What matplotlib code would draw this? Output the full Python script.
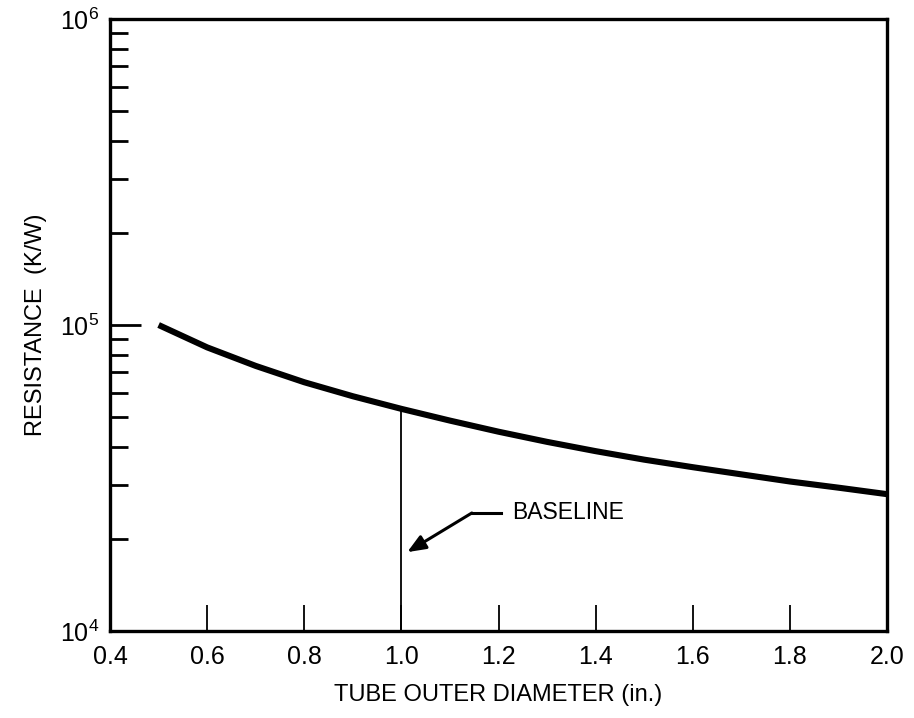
import matplotlib
matplotlib.use("Agg")
import matplotlib.pyplot as plt
from matplotlib.ticker import LogLocator, FixedLocator, NullFormatter

plt.rcParams['font.family'] = ['Liberation Sans', 'DejaVu Sans']
plt.rcParams['mathtext.fontset'] = 'custom'
plt.rcParams['mathtext.rm'] = 'Liberation Sans'
plt.rcParams['mathtext.it'] = 'Liberation Sans'
plt.rcParams['mathtext.default'] = 'regular'

# Data
diameter = [0.5, 0.6, 0.7, 0.8, 0.9, 1.0, 1.1, 1.2, 1.3, 1.4, 1.5, 1.6, 1.7, 1.8, 1.9, 2.0]
resistance = [1.0e5, 8.45e4, 7.35e4, 6.5e4, 5.85e4, 5.32e4, 4.87e4, 4.48e4, 4.15e4,
              3.87e4, 3.63e4, 3.43e4, 3.25e4, 3.08e4, 2.94e4, 2.8e4]
baseline_x = 1.0
baseline_y = 5.32e4
x_ticks = [0.4, 0.6, 0.8, 1.0, 1.2, 1.4, 1.6, 1.8, 2.0]
x_ticklabels = ['0.4', '0.6', '0.8', '1.0', '1.2', '1.4', '1.6', '1.8', '2.0']
y_ticks = [1e4, 1e5, 1e6]
y_ticklabels = ['$10^4$', '$10^5$', '$10^6$']

fig = plt.figure(figsize=(9.14, 7.18), dpi=100)
ax = fig.add_axes([0.1204, 0.1212, 0.8501, 0.8523])

ax.plot(diameter, resistance, color='black', lw=4.4, solid_capstyle='butt')
ax.plot([baseline_x, baseline_x], [1e4, baseline_y], color='black', lw=1.3)

ax.set_yscale('log')
ax.set_xlim(0.4, 2.0)
ax.set_ylim(1e4, 1e6)

ax.xaxis.set_major_locator(FixedLocator(x_ticks))
ax.set_xticklabels(x_ticklabels)
ax.yaxis.set_major_locator(FixedLocator(y_ticks))
ax.set_yticklabels(y_ticklabels)
ax.yaxis.set_minor_locator(LogLocator(base=10, subs=range(2, 10)))
ax.yaxis.set_minor_formatter(NullFormatter())

ax.tick_params(axis='x', which='major', direction='in', length=19, width=1.3,
               labelsize=18, pad=10, top=False)
ax.tick_params(axis='y', which='major', direction='in', length=22, width=2,
               labelsize=18, pad=8, right=False)
ax.tick_params(axis='y', which='minor', direction='in', length=13, width=2, right=False)

for s in ax.spines.values():
    s.set_linewidth(2.4)

ax.set_xlabel('TUBE OUTER DIAMETER (in.)', fontsize=17, labelpad=11)
ax.set_ylabel('RESISTANCE  (K/W)', fontsize=17, labelpad=9)

# BASELINE annotation
ax.annotate('', xy=(1.012, 1.81e4), xytext=(1.145, 2.43e4),
            arrowprops=dict(arrowstyle='-|>,head_length=1.1,head_width=0.45',
                            color='black', lw=2.2, shrinkA=0, shrinkB=0))
ax.plot([1.145, 1.205], [2.43e4, 2.43e4], color='black', lw=2.2)
ax.text(1.228, 2.43e4, 'BASELINE', fontsize=16.5, va='center', ha='left')

fig.savefig('out.png', dpi=100)
